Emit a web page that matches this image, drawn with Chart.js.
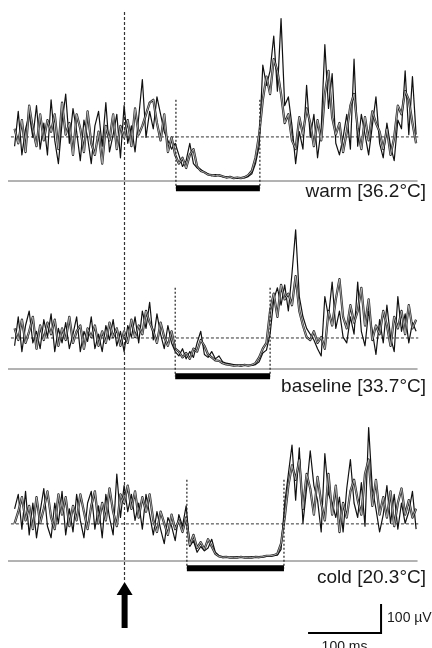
<!DOCTYPE html>
<html>
<head>
<meta charset="utf-8">
<script src="https://cdn.jsdelivr.net/npm/chart.js@4/dist/chart.umd.min.js"></script>
<style>
html,body{margin:0;padding:0;background:#ffffff;}
canvas{display:block;}
</style>
</head>
<body>
<canvas id="c" width="432" height="648"></canvas>
<script>
// ---------------- DATA ----------------
const conditionLabels = ['warm [36.2°C]', 'baseline [33.7°C]', 'cold [20.3°C]'];

// sampled rectified EMG (µV), one sample every 5 ms starting at -150 ms (stimulus at 0 ms)
const sampleStartMs = -150;
const sampleStepMs = 5;

const warmTraceA = [
  120,240,90,180,230,150,260,110,200,90,
  280,140,60,200,300,130,250,170,70,210,
  150,60,190,240,120,270,100,160,230,80,
  260,130,190,100,220,350,150,240,180,290,
  230,170,140,110,130,90,50,70,130,60,
  45,40,30,25,18,22,18,15,14,12,
  12,10,12,11,15,25,60,120,400,330,
  380,500,310,560,260,290,190,60,170,110,
  330,150,230,80,180,470,250,370,130,90,
  150,230,110,420,120,230,160,90,190,290,
  130,80,200,120,70,210,180,380,160,360,
  160];
const warmTraceB = [
  180,130,210,100,260,180,120,230,140,210,
  170,230,110,270,160,200,90,230,180,100,
  240,130,90,170,60,190,140,230,110,190,
  150,210,120,250,160,190,230,270,280,200,
  140,230,100,150,90,60,80,45,90,110,
  50,35,30,22,20,18,20,16,12,14,
  10,12,10,13,20,35,80,160,280,360,
  300,420,380,300,200,230,140,110,220,160,
  250,200,120,210,140,300,380,220,160,200,
  100,170,260,300,180,110,220,140,240,200,
  170,110,180,90,150,260,230,310,280,200,
  130];

const baselineTraceA = [
  80,180,60,150,200,90,130,70,170,110,
  190,60,140,90,160,70,120,180,60,130,
  95,180,70,120,60,150,100,170,80,130,
  60,150,110,180,90,200,140,230,100,190,
  120,70,150,90,60,45,70,35,60,40,
  90,130,50,40,60,35,45,25,20,18,
  15,12,14,12,13,12,15,25,55,65,
  120,240,280,220,290,200,330,480,250,180,
  140,120,100,70,45,250,180,300,140,200,
  110,90,180,120,300,130,80,200,130,50,
  170,90,220,110,60,250,130,190,90,160,
  130];
const baselineTraceB = [
  140,100,170,90,130,180,70,150,100,160,
  120,170,80,140,100,180,90,130,150,70,
  140,110,150,80,130,90,160,110,140,80,
  130,90,170,110,150,120,200,160,130,90,
  160,110,80,130,70,60,40,55,35,70,
  60,100,80,50,40,30,28,20,16,14,
  12,13,11,14,12,14,20,40,70,90,
  200,260,180,290,240,260,220,320,200,150,
  110,100,130,90,110,70,200,150,240,310,
  180,140,220,160,200,280,150,240,100,150,
  120,200,150,80,180,140,200,120,220,140,
  170];

const coldTraceA = [
  180,230,110,240,90,200,80,170,250,120,
  80,200,130,240,90,180,100,230,140,80,
  200,240,110,190,80,230,150,90,300,150,
  260,170,230,140,200,110,230,160,90,170,
  110,60,150,120,70,160,120,190,50,70,
  30,50,35,45,75,30,18,14,12,13,
  12,14,12,13,12,14,13,12,14,16,
  16,18,20,40,200,300,400,210,390,130,
  250,380,260,210,100,370,230,200,150,220,
  100,250,350,200,150,270,120,460,250,180,
  100,160,260,130,230,110,200,130,170,240,
  110];
const coldTraceB = [
  130,170,220,140,190,110,220,130,180,240,
  150,110,230,160,220,120,190,140,230,170,
  110,190,240,130,200,140,250,170,120,230,
  200,260,180,240,150,220,170,230,140,100,
  170,130,90,160,110,140,100,150,55,90,
  45,65,40,75,50,25,16,13,14,12,
  13,12,14,12,13,12,14,13,15,18,
  18,20,25,60,150,260,330,280,350,180,
  300,250,160,290,200,140,300,160,260,100,
  200,150,240,280,210,160,300,350,190,280,
  160,220,150,240,120,200,250,160,210,150,
  180];

const backgroundMeanUV = [152, 107, 128];     // dashed reference level per condition
const silentStartMs = [71, 70, 86];           // start of silent period
const silentEndMs = [186, 200, 219];          // end of silent period
const stimulusMs = 0;                         // arrow / stimulus time
const scaleBarMs = 100;
const scaleBarUV = 100;

// ---------------- LAYOUT / STYLE ----------------
const W = 432, H = 648;
const PX_PER_MS = 0.73;
const X_MIN_MS = -170;
const UV_PER_PX = 100 / 29;
const PANEL_HEIGHT = [200, 200, 248];
const PANEL_ZERO_FROM_TOP = [181, 169, 161];
const LABEL_BELOW_ZERO_PX = [16, 23, 22];
const ZERO_LINE_MS = [-159, 402];
const MEAN_LINE_MS = [-155, 403];
const MARK_TOP_UV = 280;
const BAR_UV = -25;
const STIM_TOP_UV = 583;
const SCALEBAR_CORNER = { ms: 352, uV: -248 };

const traces = [
  [warmTraceA, warmTraceB],
  [baselineTraceA, baselineTraceB],
  [coldTraceA, coldTraceB]
];

function toPoints(values) {
  return values.map((v, i) => ({ x: sampleStartMs + i * sampleStepMs, y: v }));
}

const base = { type: 'line', pointRadius: 0, tension: 0, fill: false, borderJoinStyle: 'round' };
const datasets = [];
traces.forEach((pair, p) => {
  const yAxisID = 'y' + p;
  datasets.push(Object.assign({}, base, { yAxisID, order: 60,
    data: [{ x: ZERO_LINE_MS[0], y: 0 }, { x: ZERO_LINE_MS[1], y: 0 }],
    borderColor: '#666', borderWidth: 1 }));
  datasets.push(Object.assign({}, base, { yAxisID, order: 55,
    data: [{ x: MEAN_LINE_MS[0], y: backgroundMeanUV[p] }, { x: MEAN_LINE_MS[1], y: backgroundMeanUV[p] }],
    borderColor: '#333', borderWidth: 1, borderDash: [3, 2] }));
  // trace B drawn as an outlined (hollow) line, trace A as a thin black line
  datasets.push(Object.assign({}, base, { yAxisID, order: 40,
    data: toPoints(pair[1]), borderColor: '#262626', borderWidth: 2.3 }));
  datasets.push(Object.assign({}, base, { yAxisID, order: 30,
    data: toPoints(pair[0]), borderColor: '#111', borderWidth: 1.2 }));
  datasets.push(Object.assign({}, base, { yAxisID, order: 20,
    data: toPoints(pair[1]), borderColor: '#c8c8c8', borderWidth: 0.8 }));
  // silent period markers
  [silentStartMs[p], silentEndMs[p]].forEach(t => {
    datasets.push(Object.assign({}, base, { yAxisID, order: 10,
      data: [{ x: t, y: MARK_TOP_UV }, { x: t, y: BAR_UV }],
      borderColor: '#222', borderWidth: 1.2, borderDash: [2, 2] }));
  });
  datasets.push(Object.assign({}, base, { yAxisID, order: 5,
    data: [{ x: silentStartMs[p], y: BAR_UV }, { x: silentEndMs[p], y: BAR_UV }],
    borderColor: '#000', borderWidth: 6, borderCapStyle: 'butt' }));
});
// scale bar on the bottom panel
datasets.push(Object.assign({}, base, { yAxisID: 'y2', order: 1,
  data: [
    { x: SCALEBAR_CORNER.ms - scaleBarMs, y: SCALEBAR_CORNER.uV },
    { x: SCALEBAR_CORNER.ms, y: SCALEBAR_CORNER.uV },
    { x: SCALEBAR_CORNER.ms, y: SCALEBAR_CORNER.uV + scaleBarUV }
  ],
  borderColor: '#000', borderWidth: 2, borderJoinStyle: 'miter', borderCapStyle: 'butt' }));

const scales = {
  x: { type: 'linear', min: X_MIN_MS, max: X_MIN_MS + W / PX_PER_MS, display: false }
};
PANEL_HEIGHT.forEach((h, i) => {
  scales['y' + i] = {
    type: 'linear', position: 'left', stack: 'panels', stackWeight: h, weight: 10 - i,
    min: -(h - PANEL_ZERO_FROM_TOP[i]) * UV_PER_PX,
    max: PANEL_ZERO_FROM_TOP[i] * UV_PER_PX,
    display: false
  };
});

const overlay = {
  id: 'overlay',
  beforeDatasetsDraw(chart) {
    const ctx = chart.ctx;
    const sx = Math.round(chart.scales.x.getPixelForValue(stimulusMs)) + 0.5;
    const top = chart.scales.y0.getPixelForValue(STIM_TOP_UV);
    const tip = chart.scales.y2.getPixelForValue(0) + 21;
    ctx.save();
    ctx.strokeStyle = '#333';
    ctx.lineWidth = 1.2;
    ctx.setLineDash([3, 2]);
    ctx.beginPath(); ctx.moveTo(sx, top); ctx.lineTo(sx, tip); ctx.stroke();
    ctx.restore();
  },
  afterDatasetsDraw(chart) {
    const ctx = chart.ctx;
    const xs = chart.scales.x;
    ctx.save();
    // arrow
    const ax = xs.getPixelForValue(stimulusMs) + 0.5;
    const tip = chart.scales.y2.getPixelForValue(0) + 21;
    ctx.fillStyle = '#000';
    ctx.beginPath();
    ctx.moveTo(ax, tip);
    ctx.lineTo(ax + 8, tip + 13);
    ctx.lineTo(ax + 3, tip + 13);
    ctx.lineTo(ax + 3, tip + 46);
    ctx.lineTo(ax - 3, tip + 46);
    ctx.lineTo(ax - 3, tip + 13);
    ctx.lineTo(ax - 8, tip + 13);
    ctx.closePath();
    ctx.fill();
    // condition labels
    ctx.fillStyle = '#1a1a1a';
    ctx.font = '19px "Liberation Sans", Arial, sans-serif';
    ctx.textAlign = 'right';
    ctx.textBaseline = 'alphabetic';
    conditionLabels.forEach((lab, i) => {
      const y0 = chart.scales['y' + i].getPixelForValue(0);
      ctx.fillText(lab, chart.chartArea.right - 6, y0 + LABEL_BELOW_ZERO_PX[i]);
    });
    // scale bar labels
    const y2 = chart.scales.y2;
    const cx = xs.getPixelForValue(SCALEBAR_CORNER.ms);
    const cy = y2.getPixelForValue(SCALEBAR_CORNER.uV);
    const vTop = y2.getPixelForValue(SCALEBAR_CORNER.uV + scaleBarUV);
    const hLeft = xs.getPixelForValue(SCALEBAR_CORNER.ms - scaleBarMs);
    ctx.font = '14px "Liberation Sans", Arial, sans-serif';
    ctx.textAlign = 'left';
    ctx.textBaseline = 'middle';
    ctx.fillText(scaleBarUV + ' µV', cx + 6, (cy + vTop) / 2);
    ctx.textAlign = 'center';
    ctx.textBaseline = 'top';
    ctx.fillText(scaleBarMs + ' ms', (cx + hLeft) / 2, cy + 7);
    ctx.restore();
  }
};

new Chart(document.getElementById('c'), {
  data: { datasets },
  options: {
    responsive: false,
    animation: false,
    devicePixelRatio: 1,
    layout: { padding: 0 },
    plugins: { legend: { display: false }, tooltip: { enabled: false } },
    events: [],
    scales
  },
  plugins: [overlay]
});
</script>
</body>
</html>
